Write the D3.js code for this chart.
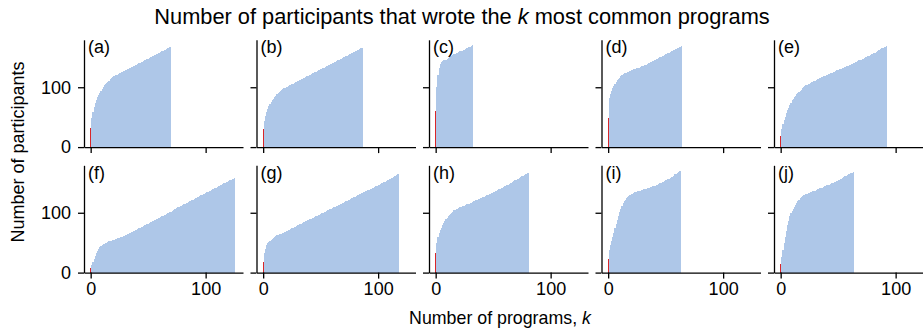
<!DOCTYPE html>
<html><head><meta charset="utf-8">
<script src="https://cdn.jsdelivr.net/npm/d3@7"></script>
<style>
body{margin:0;background:#fff}
text{font-family:"Liberation Sans",Arial,Helvetica,sans-serif;fill:#000}
</style>
</head><body>
<svg id="chart" width="923" height="330"></svg>
<script>
// Panel labels
const panelLabels = ["(a)","(b)","(c)","(d)","(e)","(f)","(g)","(h)","(i)","(j)"];
// New participants added by the k-th most common program (k = 0,1,2,...)
const newA = [32,16,11,8,6,5,5,4,4,3,3,3,3,2,2,2,2,2,2,2,
  1,1,1,1,1,1,1,1,1,1, 1,1,1,1,1,1,1,1,1,1, 1,1,1,1,1,1,1,1,1,1, 1,1,1,1,1,1,1,1,1,1, 1,1,1,1,1,1,1,1,1,1];
const newB = [30,14,8,7,5,4,4,3,3,3,3,2,2,2,2,2,2,
  1,1,1,1,1,1,1,1,1,1, 1,1,1,1,1,1,1,1,1,1, 1,1,1,1,1,1,1,1,1,1, 1,1,1,1,1,1,1,1,1,1,
  1,1,1,1,1,1,1,1,1,1, 1,1,1,1,1,1,1,1,1,1, 1,1,1,1,1,1,1,1,1,1];
const newC = [60,40,20,13,6,4, 1,1,0,1, 1,2,1,2,1,1, 1,1,1,1,1,1,1,0,1,1,1,1,1,1,1,1,1];
const newD = [49,33,7,5,4, 4,4,3,3, 2,2,2,2,2, 1,1,0,1,1,1, 1,1,1,0,1,1,1,0,1,1,1,0,1,1,
  1,1,1,1,1,1,1,1,1,1, 1,1,1,1,1,1,1,1,1,1, 1,1,1,1,1,1,1,1,1,1, 1];
const newE = [18,12,8,7,6,6,5,4,4,4,4, 3,3,2,2,2,2, 2,2,2,2,2,1,
  1,1,1,1,1,1,1,1,1,1,1,
  1,1,1,1,0,1,1,1,1,1,0,1,1,1,1,
  1,1,1,0,1,1,1,1,1,1,0,1,1,1,
  1,1,1,1,1,1,1,0,1,1,1,1,1,1,1,
  1,1,1,1,1,1,1,2,1,1,1,1,1,1,1];
const newF = [8,5,5,5,5,4,4,3,3,2,2,1, 1,1,1,1,1, 1,0,1,1,0,1,1,0,1,1,1,0,1,1,1,
  1,1,1,1,1,1,1,1,1,1, 1,1,1,1,1,1,1,1,1,1, 1,1,1,1,1,1,1,1,1,1, 1,1,1,1,1,1,1,1,1,1,
  2,
  1,1,1,1,1,1,1,1,1,1, 1,1,1,1,1,1,1,1,1,1, 1,1,1,1,1,1,1,1,1,1, 1,1,1,1,1,1,1,1,1,1, 1,1,1,1,1,1,1,1,1,1, 1,1,1];
const newG = [17,15,8,6,3,2,2,1,2, 2,2,1,1,1, 1,1,0,1,1,1,
  1,1,1,1,1,1,1,1,1,1,1,1,1,1,
  1,1,1,1,1,1,1,0,1,1,1,1,1,1,1,
  1,1,1,1,1,1,1,1,1,1,1,1,1,1,0,1,1,1,1,1,1,1,1,1,1,1,1,1,1,
  1,1,1,1,1,1,1,1,1,1,1,1,1,1,0,1,1,1,1,1,1,1,1,1,1,1,1,1,1,
  1,1,1,1,1,1,2,1,1,1,1,1];
const newH = [33,17,10,6,5,4,4,4,3,3,3, 2,2,2,2,2,2, 1,1,1,1,1,1,
  1,1,0,1,1,1,0,1,1,1,1,
  1,1,1,1,0,1,1,1,1,1,1,0,1,1,1,
  1,1,1,1,1,1,1,1,1,1,1,1,1,1,
  1,1,1,1,1,2,1,1,1,1,1,1,2,1,1,1,1,1,1];
const newI = [23,15,8,7,7,7,7,7,7,7,7, 5,5,4,3,3,2, 2,2,2,1,1,1, 1,0,1,1,0,1,
  1,0,1,1,0,1,0,1,1,0,1,0,1,1,
  1,1,1,1,1,1,1,1,1,1,1,1,1,1,
  2,2,1,2,1,1,1];
const newJ = [14,12,12,12,10,10,9,8,7,5,4,4,3,3,3,3,3, 2,2,2,1,1,1,
  1,1,0,1,1,1,0,1,1,1,1,
  1,1,0,1,1,1,1,0,1,1,1,0,1,1,1,
  1,1,1,1,1,1,1,2,1,1,1,1,1,1,1];
const yTicks = [0, 100];
const xTicks = [0, 100];

const series = [newA,newB,newC,newD,newE,newF,newG,newH,newI,newJ];

const svg = d3.select("#chart");
const blue = "#aec7e8", red = "#d9262a";
const colLeft0 = 84, colStep = 172.5, panelW = 159;
const rowTop = [39.8, 165.3], panelH = 107.3;

const x = d3.scaleLinear().domain([-5.8, 132.5]).range([0, panelW]);
const y = d3.scaleLinear().domain([0, 179.3]).range([panelH, 0]);

series.forEach((inc, idx) => {
  const col = idx % 5, row = Math.floor(idx / 5);
  const g = svg.append("g").attr("transform", `translate(${colLeft0 + col*colStep},${rowTop[row]})`);
  const cum = Array.from(d3.cumsum(inc));
  const data = cum.map((v, k) => ({k, v}));
  g.selectAll("rect.bar").data(data).join("rect")
    .attr("class","bar")
    .attr("x", d => x(d.k - 0.5))
    .attr("width", d => x(d.k + 0.5) - x(d.k - 0.5))
    .attr("y", d => y(d.v))
    .attr("height", d => y(0) - y(d.v))
    .attr("fill", d => d.k === 0 ? red : blue)
    .attr("shape-rendering", "crispEdges");

  const yAxis = d3.axisLeft(y).tickValues(yTicks).tickSize(6).tickSizeOuter(0).tickPadding(7)
    .tickFormat(col === 0 ? d3.format("d") : () => "");
  const xAxis = d3.axisBottom(x).tickValues(xTicks).tickSize(6).tickSizeOuter(0).tickPadding(4)
    .tickFormat(row === 1 ? d3.format("d") : () => "");
  const ya = g.append("g").call(yAxis);
  const xa = g.append("g").attr("transform", `translate(0,${panelH})`).call(xAxis);
  [ya, xa].forEach(a => {
    a.select(".domain").attr("stroke", "#000").attr("stroke-width", 1.3);
    a.selectAll(".tick line").attr("stroke", "#000").attr("stroke-width", 1.3);
    a.selectAll(".tick text").attr("font-size", 18).attr("fill", "#000")
      .attr("font-family", '"Liberation Sans",Arial,sans-serif');
  });
  g.append("text").attr("x", 4).attr("y", 13.5).attr("font-size", 18).text(panelLabels[idx]);
});

// Title
const title = svg.append("text").attr("x", 462).attr("y", 24).attr("text-anchor","middle").attr("font-size", 21.8);
title.append("tspan").text("Number of participants that wrote the ");
title.append("tspan").attr("font-style","italic").text("k");
title.append("tspan").text(" most common programs");

// X label
const xl = svg.append("text").attr("x", 500).attr("y", 324).attr("text-anchor","middle").attr("font-size", 17.8);
xl.append("tspan").text("Number of programs, ");
xl.append("tspan").attr("font-style","italic").text("k");

// Y label
svg.append("text").attr("transform","translate(24,152) rotate(-90)").attr("text-anchor","middle")
  .attr("font-size", 18).text("Number of participants");
</script>
</body></html>
